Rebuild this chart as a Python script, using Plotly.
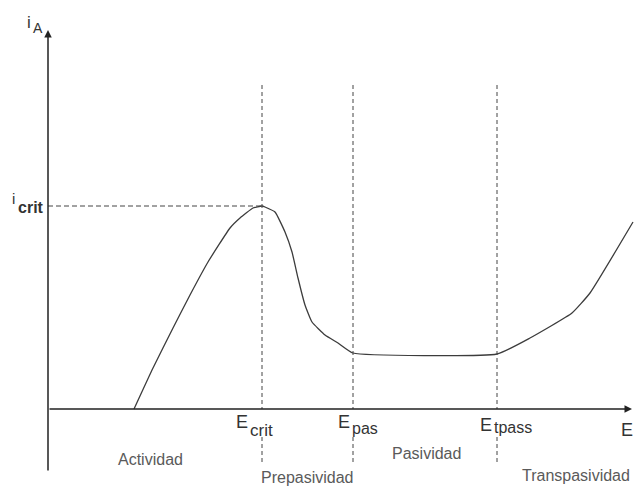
import plotly.graph_objects as go

# Anodic polarization curve (arbitrary units): potential E vs anodic current i_A
E_curve = [86, 105, 125, 142, 160, 182, 192, 205, 214, 217, 227, 237, 244, 250,
           257, 264, 277, 290, 305, 449, 482, 524, 542, 585]
i_curve = [0, 41, 81, 114, 147, 181, 191, 201, 203, 202, 197, 177, 157, 131,
           104, 87, 74, 66, 56, 55, 71, 96, 116, 187]

# Characteristic potentials and critical current
E_crit = 214
E_pas = 305
E_tpass = 449
i_crit = 203

# Region names and their label anchor points (E, i)
regions = ["Actividad", "Prepasividad", "Pasividad", "Transpasividad"]
region_E = [102.5, 259, 378, 528]
region_i = [-50, -68, -44, -66]

FONT = "Liberation Sans, Arial, sans-serif"
INK = "#333333"
SOFT = "#5a5a5a"

fig = go.Figure()

fig.add_trace(go.Scatter(
    x=E_curve, y=i_curve, mode="lines",
    line=dict(color="#3c3c3c", width=1.3, shape="spline", smoothing=0.4),
    hoverinfo="skip", showlegend=False,
))

shapes = []
# dashed guides at the characteristic potentials (above and below the E axis label row)
for E in (E_crit, E_pas, E_tpass):
    shapes.append(dict(type="line", xref="x", yref="y", x0=E, x1=E, y0=324, y1=0,
                       line=dict(color="#444444", width=1, dash="4px,3px")))
    shapes.append(dict(type="line", xref="x", yref="y", x0=E, x1=E, y0=-28, y1=-54,
                       line=dict(color="#444444", width=1, dash="4px,3px")))
# dashed guide at the critical current
shapes.append(dict(type="line", xref="x", yref="y", x0=0, x1=E_crit, y0=i_crit, y1=i_crit,
                   line=dict(color="#444444", width=1, dash="5px,3px")))

annotations = []
# axes with arrowheads
annotations.append(dict(x=0, y=379, ax=0, ay=-63, xref="x", yref="y", axref="x", ayref="y",
                        showarrow=True, arrowhead=2, arrowsize=1, arrowwidth=1.5,
                        arrowcolor="#222222", text=""))
annotations.append(dict(x=584, y=0, ax=0, ay=0, xref="x", yref="y", axref="x", ayref="y",
                        showarrow=True, arrowhead=2, arrowsize=1, arrowwidth=1.5,
                        arrowcolor="#222222", text=""))


def label(text, x, y, size, color=INK, xanchor="center", bold=False):
    t = f"<b>{text}</b>" if bold else text
    annotations.append(dict(x=x, y=y, xref="x", yref="y", text=t, showarrow=False,
                            xanchor=xanchor, yanchor="middle",
                            font=dict(family=FONT, size=size, color=color)))


# axis titles
label("i", -19, 387, 17)
label("A", -10.5, 381, 14)
label("E", 587, -20.6, 18, xanchor="right")

# critical current label
label("i", -34.5, 210.5, 15)
label("crit", -17.5, 202, 16, bold=True)

# potential labels
label("E", E_crit - 20.5, -12.6, 18)
label("crit", E_crit - 0.5, -21, 17)
label("E", E_pas - 9, -12.6, 18)
label("pas", E_pas + 11.5, -19, 16)
label("E", E_tpass - 11, -15.6, 18)
label("tpass", E_tpass + 15.5, -18, 16)

# region names
for name, x, y in zip(regions, region_E, region_i):
    label(name, x, y, 16, color=SOFT)

fig.update_layout(
    width=636, height=489,
    margin=dict(l=0, r=0, t=0, b=0),
    paper_bgcolor="white", plot_bgcolor="white",
    xaxis=dict(range=[-48, 588], visible=False, fixedrange=True),
    yaxis=dict(range=[-80, 409], visible=False, fixedrange=True),
    shapes=shapes, annotations=annotations,
    showlegend=False,
)

fig.write_html("out.html")
